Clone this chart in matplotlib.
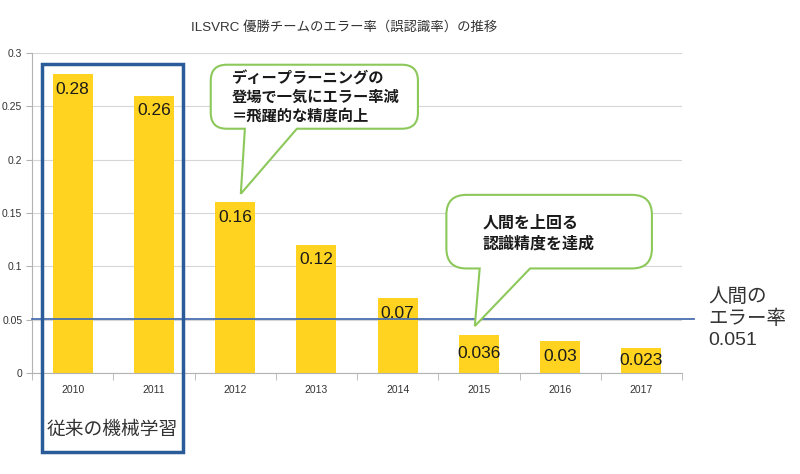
# ILSVRC 優勝チームのエラー率の推移
import matplotlib.pyplot as plt
from matplotlib.path import Path
from matplotlib.patches import PathPatch, Rectangle
from matplotlib.transforms import IdentityTransform

years = ['2010', '2011', '2012', '2013', '2014', '2015', '2016', '2017']
error_rates = [0.28, 0.26, 0.16, 0.12, 0.07, 0.036, 0.03, 0.023]
value_labels = ['0.28', '0.26', '0.16', '0.12', '0.07', '0.036', '0.03', '0.023']
human_error = 0.051
y_ticks = [0, 0.05, 0.1, 0.15, 0.2, 0.25, 0.3]
y_tick_labels = ['0', '0.05', '0.1', '0.15', '0.2', '0.25', '0.3']

title = 'ILSVRC 優勝チームのエラー率（誤認識率）の推移'
note_dl = 'ディープラーニングの\n登場で一気にエラー率減\n＝飛躍的な精度向上'
note_human = '人間を上回る\n認識精度を達成'
human_label = '人間の\nエラー率\n0.051'
ml_label = '従来の機械学習'

FONTS = ['Liberation Sans', 'Noto Sans CJK JP']
plt.rcParams['font.family'] = FONTS

bar_color = '#ffd320'
blue = '#2b5c9a'
line_blue = '#4a6fb0'
green = '#8cc85a'
text_col = '#333333'


def callout(ax, x0, x1, y0, y1, b0, b1, tip, r=16):
    # 吹き出し (角丸の箱 + しっぽ) をピクセル座標で組み立てる
    T = ax.transData
    X0, Y0 = T.transform((x0, y0))
    X1, Y1 = T.transform((x1, y1))
    B0 = T.transform((b0, y0))[0]
    B1 = T.transform((b1, y0))[0]
    TX, TY = T.transform(tip)
    verts = [(X0 + r, Y1), (X1 - r, Y1), (X1, Y1), (X1, Y1 - r),
             (X1, Y0 + r), (X1, Y0), (X1 - r, Y0),
             (B1, Y0), (TX, TY), (B0, Y0),
             (X0 + r, Y0), (X0, Y0), (X0, Y0 + r),
             (X0, Y1 - r), (X0, Y1), (X0 + r, Y1), (X0 + r, Y1)]
    codes = [Path.MOVETO, Path.LINETO, Path.CURVE3, Path.CURVE3,
             Path.LINETO, Path.CURVE3, Path.CURVE3,
             Path.LINETO, Path.LINETO, Path.LINETO,
             Path.LINETO, Path.CURVE3, Path.CURVE3,
             Path.LINETO, Path.CURVE3, Path.CURVE3, Path.CLOSEPOLY]
    patch = PathPatch(Path(verts, codes), transform=IdentityTransform(),
                      facecolor='white', edgecolor=green, lw=1.5,
                      zorder=5, clip_on=False)
    ax.add_artist(patch)


fig = plt.figure(figsize=(8, 4.74), dpi=100)
ax = fig.add_axes([0.04, 0.2131, 0.8125, 0.6751])

x = list(range(len(years)))
ax.bar(x, error_rates, width=0.49, color=bar_color, zorder=2)

ax.set_xlim(-0.5, len(years) - 0.5)
ax.set_ylim(0, 0.3)
ax.set_yticks(y_ticks)
ax.set_yticklabels(y_tick_labels)
ax.set_xticks(x)
ax.set_xticklabels(years)
ax.set_xticks([i - 0.5 for i in range(len(years) + 1)], minor=True)
ax.tick_params(axis='x', which='major', length=0, pad=9, labelsize=7.5, labelcolor=text_col)
ax.tick_params(axis='x', which='minor', length=5, color='#b3b3b3', direction='out')
ax.tick_params(axis='y', length=4, color='#b3b3b3', pad=3, labelsize=7.5, labelcolor=text_col)
ax.grid(axis='y', color='#d6d6d6', lw=0.8, zorder=0)
for s in ['top', 'right']:
    ax.spines[s].set_visible(False)
for s in ['left', 'bottom']:
    ax.spines[s].set_color('#b3b3b3')
    ax.spines[s].set_linewidth(0.8)

# 値ラベル
for xi, v, lab in zip(x, error_rates, value_labels):
    y = v - 0.014 if v > 0.05 else v / 2
    ax.text(xi, y, lab, ha='center', va='center', fontsize=12.5,
            color='#1a1a1a', zorder=4)

# 人間のエラー率
ax.plot([-0.5, len(years) - 0.35], [human_error, human_error], color=line_blue,
        lw=1.3, zorder=3, clip_on=False)
ax.text(1.04, human_error, human_label, transform=ax.get_yaxis_transform(),
        ha='left', va='center', fontsize=14, color=text_col, linespacing=1.3)

# 従来の機械学習の枠
ax.add_patch(Rectangle((-0.377, -0.074), 1.736, 0.364, fill=False,
                       edgecolor=blue, lw=2.5, zorder=6, clip_on=False))
ax.text(0.49, -0.054, ml_label, ha='center', va='center', fontsize=13.5,
        color=text_col, clip_on=False)

# 吹き出し
callout(ax, 1.70, 4.25, 0.229, 0.289, 2.12, 2.76, (2.07, 0.168))
ax.text(1.96, 0.258, note_dl, ha='left', va='center', fontsize=11,
        fontweight='bold', color='#1a1a1a', linespacing=1.35, zorder=7)
callout(ax, 4.60, 7.13, 0.098, 0.167, 5.01, 5.63, (4.95, 0.044), r=20)
ax.text(5.05, 0.131, note_human, ha='left', va='center', fontsize=11.5,
        fontweight='bold', color='#1a1a1a', linespacing=1.45, zorder=7)

fig.text(0.43, 0.943, title, ha='center', va='center', fontsize=9.6, color=text_col)

fig.savefig('out.png', dpi=100)
